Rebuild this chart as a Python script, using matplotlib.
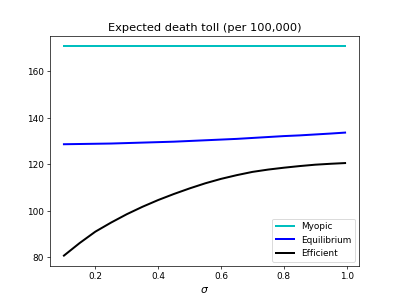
import numpy as np
import matplotlib
matplotlib.use("Agg")
import matplotlib.pyplot as plt

# --- data ---
sigma = [0.10, 0.15, 0.20, 0.25, 0.30, 0.35, 0.40, 0.45, 0.50, 0.55,
         0.60, 0.65, 0.70, 0.75, 0.80, 0.85, 0.90, 0.95, 0.995]
myopic = [170.9] * len(sigma)
equilibrium = [128.7, 128.8, 128.9, 129.0, 129.2, 129.4, 129.6, 129.8, 130.1, 130.4,
               130.7, 131.0, 131.4, 131.8, 132.2, 132.5, 132.9, 133.3, 133.7]
efficient = [80.8, 86.2, 91.1, 95.0, 98.6, 101.8, 104.7, 107.3, 109.7, 111.9,
             113.8, 115.4, 116.8, 117.8, 118.6, 119.3, 119.9, 120.3, 120.6]

plt.rcParams["font.size"] = 10.3

fig = plt.figure(figsize=(6.4, 4.8), dpi=62.35)
ax = fig.add_subplot(111)
ax.plot(sigma, myopic, "c", lw=2.3, label="Myopic")
ax.plot(sigma, equilibrium, "b", lw=2.3, label="Equilibrium")
ax.plot(sigma, efficient, "k", lw=2.3, label="Efficient")
ax.set_xlabel(r"$\sigma$", fontsize=12.5)
ax.set_title("Expected death toll (per 100,000)", fontsize=13.1)
ax.legend(loc="lower right")
fig.savefig("out.png", dpi=62.35)
